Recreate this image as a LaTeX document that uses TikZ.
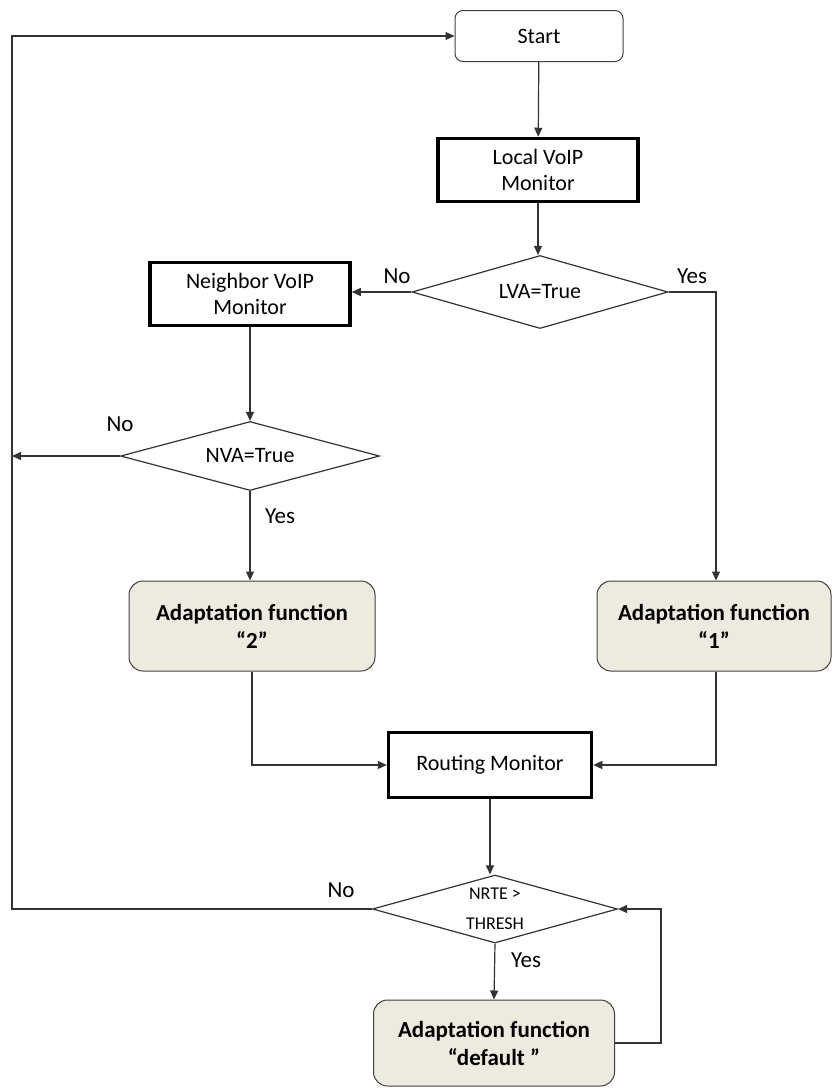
\documentclass[tikz,border=0pt]{standalone}
\usepackage{fontspec}
\setmainfont{Carlito}
\usetikzlibrary{shapes.geometric,arrows.meta}
\begin{document}
\begin{tikzpicture}[x=1pt,y=-1pt,
  font=\fontsize{22}{26}\selectfont,
  line/.style={draw=black!80, line width=1.2pt},
  arr/.style={line, -{Triangle[length=9pt,width=8pt]}},
  startbox/.style={draw=black!75, line width=1pt, rounded corners=8pt, minimum width=168pt, minimum height=51pt},
  monbox/.style={draw=black, line width=3.5pt, align=center, minimum width=200pt, minimum height=63pt, inner sep=0pt},
  adapt/.style={draw=black!75, line width=1pt, rounded corners=14pt, fill=beige, align=center, font=\fontsize{23}{28}\selectfont\bfseries},
  decision/.style={draw=black!80, line width=1.2pt, diamond, aspect=3.6, inner sep=0pt, align=center},
  lbl/.style={font=\fontsize{23}{26}\selectfont}
]
\definecolor{beige}{HTML}{EDEBE0}
\useasboundingbox (0,0) rectangle (832,1088);

\node[startbox] (start) at (539,36) {Start};
\node[monbox] (local) at (538,170) {Local VoIP\\Monitor};
\node[decision, minimum width=256pt, minimum height=73pt] (lva) at (540,292) {LVA=True};
\node[monbox] (neigh) at (250,294) {Neighbor VoIP\\Monitor};
\node[decision, minimum width=259pt, minimum height=69pt] (nva) at (250,456) {NVA=True};
\node[adapt, minimum width=246pt, minimum height=90pt] (ad2) at (252,626) {Adaptation function\\“2”};
\node[adapt, minimum width=234pt, minimum height=90pt] (ad1) at (714,626) {Adaptation function\\“1”};
\node[monbox, minimum width=203pt, minimum height=65pt] (route) at (490,765) {Routing Monitor};
\node[decision, minimum width=245pt, minimum height=68pt, font=\fontsize{18}{30}\selectfont] (nrte) at (495,909) {NRTE >\\THRESH};
\node[adapt, minimum width=241pt, minimum height=86pt] (addef) at (494,1043) {Adaptation function\\“default ”};

\coordinate (loopL) at (12,456);

% main flow
\draw[arr] (start) -- (local);
\draw[arr] (local.south) -- (local.south |- lva.north);
\draw[arr] (lva.west) -- (neigh.east |- lva.west);
\draw[arr] (lva.east) -| (716,0 |- ad1.north);
\draw[arr] (neigh.south) -- (neigh.south |- nva.north);
\draw[arr] (nva.west) -- (loopL);
\draw[arr] (nva.south) -- (nva.south |- ad2.north);
\draw[arr] (ad2.south) |- (route.west);
\draw[arr] (716,0 |- ad1.south) |- (route.east);
\draw[arr] (route.south) -- (route.south |- nrte.north);
\draw[arr] (nrte.west) -- (12,909) -- (12,36) -- (start.west);
\draw[arr] (nrte.south) -- (addef.north);
\draw[arr] (addef.east) -- (661,1047 |- addef.east) -- (661,909) -- (nrte.east);

% branch labels
\node[lbl] (lvaNo) at (397,276) {No};
\node[lbl] (lvaYes) at (692,276) {Yes};
\node[lbl] (nvaNo) at (120,424) {No};
\node[lbl] (nvaYes) at (280,516) {Yes};
\node[lbl] (nrteNo) at (341,890) {No};
\node[lbl] (nrteYes) at (526,960) {Yes};
\end{tikzpicture}
\end{document}
